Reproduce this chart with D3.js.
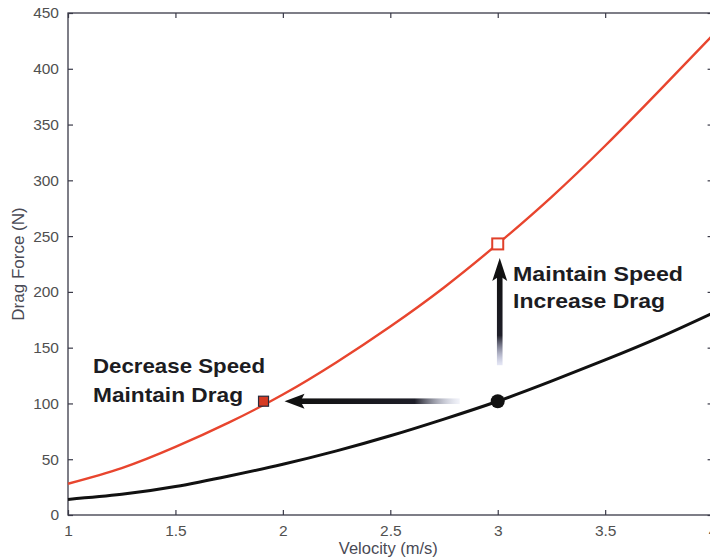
<!DOCTYPE html>
<html>
<head>
<meta charset="utf-8">
<script src="https://cdn.jsdelivr.net/npm/d3@7"></script>
<style>
  html, body { margin: 0; padding: 0; background: #ffffff; }
  svg { display: block; font-family: "Liberation Sans", Arial, sans-serif; }
</style>
</head>
<body>
<svg id="chart" width="710" height="559"></svg>
<script>
// ---- data ----
const velocity   = [1, 1.25, 1.5, 1.75, 2, 2.25, 2.5, 2.75, 3, 3.25, 3.5, 3.75, 4];
const dragHigh   = [28, 42, 61, 83, 108, 137, 169, 204, 243, 285, 331, 380, 430];
const dragLow    = [14, 18.5, 25.5, 35, 45.5, 57.5, 71, 86, 102, 120, 139, 159, 181];
const xTicks     = [1, 1.5, 2, 2.5, 3, 3.5, 4];
const xTickLabels= ["1", "1.5", "2", "2.5", "3", "3.5", "4"];
const yTicks     = [0, 50, 100, 150, 200, 250, 300, 350, 400, 450];
const yTickLabels= ["0", "50", "100", "150", "200", "250", "300", "350", "400", "450"];
const xLabel = "Velocity (m/s)";
const yLabel = "Drag Force (N)";
// annotation points: [velocity, force]
const startPoint     = [3, 102];
const decSpeedPoint  = [1.91, 102];
const incDragPoint   = [3, 243];
const labelDecrease  = ["Decrease Speed", "Maintain Drag"];
const labelIncrease  = ["Maintain Speed", "Increase Drag"];

(function () {
// ---- layout ----
const svg = d3.select("#chart");
const mLeft = 68, mRight = 712.6, mTop = 13, mBottom = 515;
const x = d3.scaleLinear().domain([1, 4]).range([mLeft, mRight]);
const y = d3.scaleLinear().domain([0, 450]).range([mBottom, mTop]);

const axisColor = "#3a3a48";
const tickTextColor = "#505050";

// defs: gradients for arrows
const defs = svg.append("defs");
const gH = defs.append("linearGradient").attr("id", "gH")
  .attr("x1", "0%").attr("x2", "100%").attr("y1", "0%").attr("y2", "0%");
gH.append("stop").attr("offset", "0%").attr("stop-color", "#111111");
gH.append("stop").attr("offset", "72%").attr("stop-color", "#1e1e28");
gH.append("stop").attr("offset", "100%").attr("stop-color", "#c0c6e4").attr("stop-opacity", 0.2);
const gV = defs.append("linearGradient").attr("id", "gV")
  .attr("x1", "0%").attr("x2", "0%").attr("y1", "0%").attr("y2", "100%");
gV.append("stop").attr("offset", "0%").attr("stop-color", "#111111");
gV.append("stop").attr("offset", "68%").attr("stop-color", "#1e1e28");
gV.append("stop").attr("offset", "100%").attr("stop-color", "#aab0e0").attr("stop-opacity", 0.3);

// box
svg.append("rect").attr("x", mLeft).attr("y", mTop)
  .attr("width", mRight - mLeft).attr("height", mBottom - mTop)
  .attr("fill", "none").attr("stroke", axisColor).attr("stroke-width", 1.3);

// axes (inward ticks)
const xAxisB = d3.axisBottom(x).tickValues(xTicks).tickSizeInner(-5).tickSizeOuter(0)
  .tickPadding(10).tickFormat((d, i) => xTickLabels[i]);
const gx = svg.append("g").attr("transform", `translate(0,${mBottom})`).call(xAxisB);
const xAxisT = d3.axisTop(x).tickValues(xTicks).tickSizeInner(-5).tickSizeOuter(0).tickFormat("");
const gxt = svg.append("g").attr("transform", `translate(0,${mTop})`).call(xAxisT);
const yAxisL = d3.axisLeft(y).tickValues(yTicks).tickSizeInner(-5).tickSizeOuter(0)
  .tickPadding(9).tickFormat((d, i) => yTickLabels[i]);
const gy = svg.append("g").attr("transform", `translate(${mLeft},0)`).call(yAxisL);
const yAxisR = d3.axisRight(y).tickValues(yTicks).tickSizeInner(-5).tickSizeOuter(0).tickFormat("");
const gyr = svg.append("g").attr("transform", `translate(${mRight},0)`).call(yAxisR);

[gx, gxt, gy, gyr].forEach(g => {
  g.select(".domain").attr("stroke", "none");
  g.selectAll(".tick line").attr("stroke", axisColor).attr("stroke-width", 1.2);
  g.selectAll(".tick text").attr("fill", tickTextColor)
    .style("font-size", "15.5px").style("font-family", "'Liberation Sans', Arial, sans-serif");
});

// axis labels
svg.append("text").attr("x", (mLeft + mRight) / 2 - 2).attr("y", 554)
  .attr("text-anchor", "middle").attr("fill", "#4a4a55")
  .style("font-size", "16.5px").text(xLabel);
svg.append("text").attr("transform", `translate(24,${(mTop + mBottom) / 2}) rotate(-90)`)
  .attr("text-anchor", "middle").attr("fill", "#4a4a55")
  .style("font-size", "17px").text(yLabel);

// curves
const line = (vals) => d3.line().x((d, i) => x(velocity[i])).y(d => y(d)).curve(d3.curveNatural)(vals);
svg.append("path").attr("d", line(dragHigh)).attr("fill", "none")
  .attr("stroke", "#e8452e").attr("stroke-width", 2.4);
svg.append("path").attr("d", line(dragLow)).attr("fill", "none")
  .attr("stroke", "#111111").attr("stroke-width", 3);

// horizontal arrow (decrease speed)
const hy = y(startPoint[1]);
const hTip = x(decSpeedPoint[0]) + 21;
const hEnd = x(startPoint[0]) - 38;
svg.append("rect").attr("x", hTip + 14).attr("y", hy - 2.8)
  .attr("width", hEnd - hTip - 14).attr("height", 5.6).attr("fill", "url(#gH)");
svg.append("path")
  .attr("d", `M${hTip},${hy} L${hTip + 20},${hy - 7.5} L${hTip + 16},${hy} L${hTip + 20},${hy + 7.5} Z`)
  .attr("fill", "#111111");

// vertical arrow (increase drag)
const vx = x(incDragPoint[0]) + 2;
const vTip = y(incDragPoint[1]) + 14;
const vEnd = y(startPoint[1]) - 36;
svg.append("rect").attr("x", vx - 2.8).attr("y", vTip + 14)
  .attr("width", 5.6).attr("height", vEnd - vTip - 14).attr("fill", "url(#gV)");
svg.append("path")
  .attr("d", `M${vx},${vTip} L${vx - 7.5},${vTip + 23} L${vx},${vTip + 18} L${vx + 7.5},${vTip + 23} Z`)
  .attr("fill", "#111111");

// markers
const s1 = 10;
svg.append("rect").attr("x", x(decSpeedPoint[0]) - s1 / 2).attr("y", y(decSpeedPoint[1]) - s1 / 2)
  .attr("width", s1).attr("height", s1).attr("fill", "#d63a22").attr("stroke", "#2a2a3a").attr("stroke-width", 1.2);
const s2 = 11;
svg.append("rect").attr("x", x(incDragPoint[0]) - s2 / 2).attr("y", y(incDragPoint[1]) - s2 / 2)
  .attr("width", s2).attr("height", s2).attr("fill", "#ffffff").attr("stroke", "#e0402a").attr("stroke-width", 2);
svg.append("circle").attr("cx", x(startPoint[0])).attr("cy", y(startPoint[1])).attr("r", 7)
  .attr("fill", "#111111");

// annotation text
const bold = (txt, px, py, len) => svg.append("text").attr("x", px).attr("y", py)
  .attr("fill", "#1c1c22").style("font-size", "21px").style("font-weight", "bold")
  .attr("textLength", len).attr("lengthAdjust", "spacingAndGlyphs").text(txt);
bold(labelDecrease[0], 93, 373, 172);
bold(labelDecrease[1], 93, 402, 150);
bold(labelIncrease[0], 513, 281, 170);
bold(labelIncrease[1], 513, 308, 152);
})();
</script>
</body>
</html>
